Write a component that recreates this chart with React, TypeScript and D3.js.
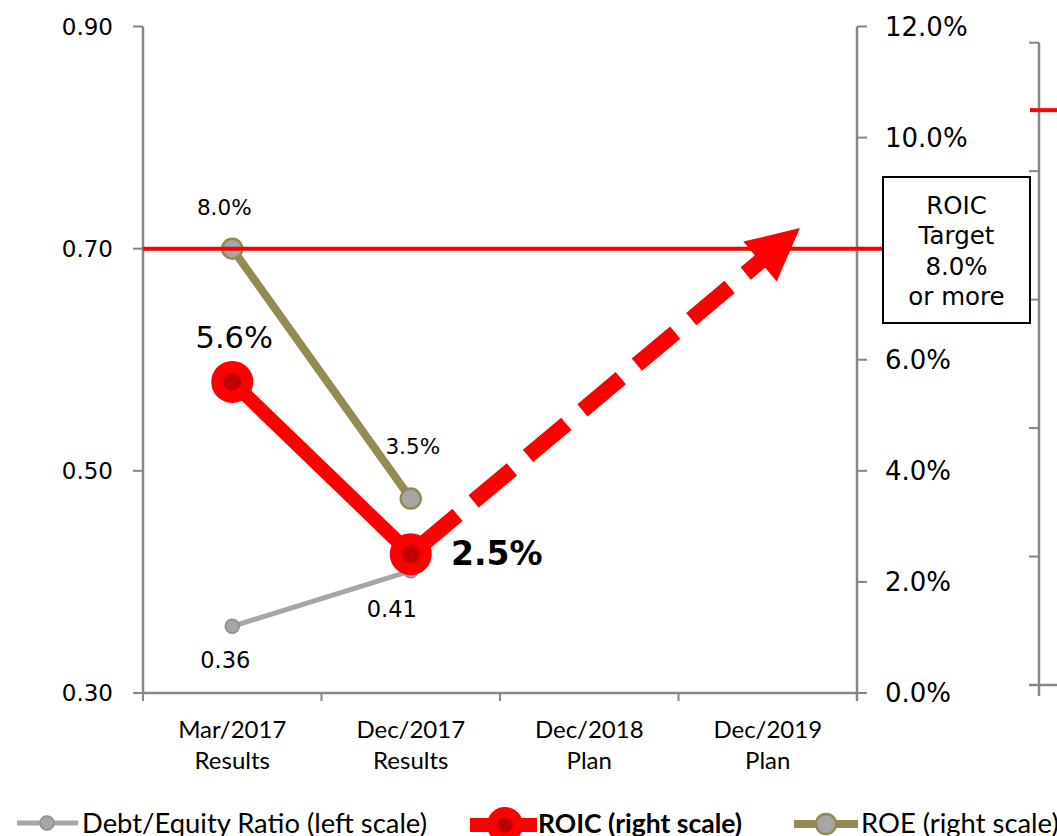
import React from "react";
import * as d3 from "d3";

const catLine1 = ["Mar/2017", "Dec/2017", "Dec/2018", "Dec/2019"];
const catLine2 = ["Results", "Results", "Plan", "Plan"];
const debtEquity = [0.36, 0.41];
const roic = [5.6, 2.5];
const roe = [8.0, 3.5];
const roicTarget = 8.0;
const leftTicks = [0.3, 0.5, 0.7, 0.9];
const rightTicks = [0, 2, 4, 6, 8, 10, 12];
const thirdTicks = [0, 2, 4, 6, 8, 10];
const thirdMark = 8.95;
const arrowTo = { cat: 3.18, value: 8.37 };
const targetLabel = ["ROIC", "Target", "8.0%", "or more"];
const legendItems = [
  "Debt/Equity Ratio (left scale)",
  "ROIC (right scale)",
  "ROE (right scale)",
];

const W = 1057;
const H = 836;
const RED = "#FF0000";
const DARKRED = "#C00000";
const OLIVE = "#948A54";
const GRAY = "#A6A6A6";
const AXIS = "#868686";
const NUM = "'DejaVu Sans', sans-serif";
const LAT = "Lato, 'Noto Sans', sans-serif";

export default function App() {
  const x = d3.scaleLinear().domain([-0.5, 3.5]).range([143, 857]);
  const yL = d3.scaleLinear().domain([0.3, 0.9]).range([693, 26.5]);
  const yR = d3.scaleLinear().domain([0, 12]).range([693, 26.5]);
  const y3 = d3.scaleLinear().domain([0, 10]).range([685, 42.7]);

  const lineL = d3
    .line<number>()
    .x((_, i) => x(i))
    .y((d) => yL(d));
  const lineR = d3
    .line<number>()
    .x((_, i) => x(i))
    .y((d) => yR(d));

  // arrow
  const ax0 = x(1);
  const ay0 = yR(roic[1]);
  const ax1 = x(arrowTo.cat);
  const ay1 = yR(arrowTo.value);
  const len = Math.hypot(ax1 - ax0, ay1 - ay0);
  const ux = (ax1 - ax0) / len;
  const uy = (ay1 - ay0) / len;
  const headLen = 52;
  const headHalf = 26;
  const bx = ax1 - ux * headLen;
  const by = ay1 - uy * headLen;
  const px = -uy;
  const py = ux;
  const headPts = [
    [ax1, ay1],
    [bx + px * headHalf, by + py * headHalf],
    [bx - px * headHalf, by - py * headHalf],
  ]
    .map((p) => p.join(","))
    .join(" ");

  const boundaries = d3.range(5).map((i) => x(i - 0.5));
  const boxX = 883;
  const boxY = 177;
  const boxW = 147;
  const boxH = 146;

  const legY = 824;
  const legBase = 833;

  return (
    <svg
      width={W}
      height={H}
      style={{ position: "absolute", left: 0, top: 0, background: "#fff" }}
    >
      <rect width={W} height={H} fill="#fff" />
      {/* left axis */}
      <line x1={143} x2={143} y1={yL(0.9)} y2={693} stroke={AXIS} strokeWidth={2.5} />
      {leftTicks.map((t) => (
        <g key={t}>
          <line x1={133} x2={143} y1={yL(t)} y2={yL(t)} stroke={AXIS} strokeWidth={2} />
          <text
            x={113}
            y={yL(t)}
            textAnchor="end"
            dominantBaseline="central"
            fontFamily={NUM}
            fontSize={23}
            fill="#000"
          >
            {t.toFixed(2)}
          </text>
        </g>
      ))}
      {/* right axis */}
      <line x1={857} x2={857} y1={yR(12)} y2={700} stroke={AXIS} strokeWidth={2.5} />
      {rightTicks.map((t) => (
        <g key={t}>
          <line x1={857} x2={867} y1={yR(t)} y2={yR(t)} stroke={AXIS} strokeWidth={2} />
          <text
            x={885}
            y={yR(t)}
            dominantBaseline="central"
            fontFamily={NUM}
            fontSize={26}
            fill="#000"
          >
            {t.toFixed(1) + "%"}
          </text>
        </g>
      ))}
      {/* bottom axis */}
      <line x1={143} x2={857} y1={693} y2={693} stroke={AXIS} strokeWidth={2.5} />
      {boundaries.map((b, i) => (
        <line key={i} x1={b} x2={b} y1={693} y2={701} stroke={AXIS} strokeWidth={2} />
      ))}
      {catLine1.map((c, i) => (
        <g key={c}>
          <text
            x={x(i)}
            y={728}
            textAnchor="middle"
            dominantBaseline="central"
            fontFamily={LAT}
            fontSize={24}
          >
            {c}
          </text>
          <text
            x={x(i)}
            y={759}
            textAnchor="middle"
            dominantBaseline="central"
            fontFamily={LAT}
            fontSize={24}
          >
            {catLine2[i]}
          </text>
        </g>
      ))}
      {/* third axis */}
      <line x1={1039} x2={1039} y1={y3(10)} y2={696} stroke={AXIS} strokeWidth={2.5} />
      {thirdTicks.map((t) => (
        <line key={t} x1={1029} x2={1039} y1={y3(t)} y2={y3(t)} stroke={AXIS} strokeWidth={2} />
      ))}
      <line x1={1029} x2={W} y1={y3(0)} y2={y3(0)} stroke={AXIS} strokeWidth={2.5} />
      <line x1={1030} x2={W} y1={y3(thirdMark)} y2={y3(thirdMark)} stroke={RED} strokeWidth={4} />

      {/* Debt/Equity */}
      <path d={lineL(debtEquity) || ""} fill="none" stroke={GRAY} strokeWidth={5} />
      {debtEquity.map((d, i) => (
        <circle key={i} cx={x(i)} cy={yL(d)} r={7} fill={GRAY} stroke="#8C8C8C" strokeWidth={1.5} />
      ))}
      {/* ROE */}
      <path d={lineR(roe) || ""} fill="none" stroke={OLIVE} strokeWidth={8} />
      {roe.map((d, i) => (
        <circle key={i} cx={x(i)} cy={yR(d)} r={10} fill={GRAY} stroke={OLIVE} strokeWidth={2.5} />
      ))}
      {/* ROIC */}
      <path d={lineR(roic) || ""} fill="none" stroke={RED} strokeWidth={14} strokeLinejoin="round" />
      {/* arrow */}
      <line
        x1={ax0}
        y1={ay0}
        x2={bx + ux * 2}
        y2={by + uy * 2}
        stroke={RED}
        strokeWidth={16}
        strokeDasharray="50 21"
        strokeDashoffset={60}
      />
      <polygon points={headPts} fill={RED} />
      {roic.map((d, i) => (
        <circle key={i} cx={x(i)} cy={yR(d)} r={15} fill={DARKRED} stroke={RED} strokeWidth={12} />
      ))}
      {/* target line */}
      <line x1={143} x2={boxX} y1={yR(roicTarget)} y2={yR(roicTarget)} stroke={RED} strokeWidth={4} />
      <rect x={boxX} y={boxY} width={boxW} height={boxH} fill="#fff" stroke="#000" strokeWidth={2} />
      {targetLabel.map((t, i) => (
        <text
          key={t}
          x={boxX + boxW / 2}
          y={205 + i * 30.5}
          textAnchor="middle"
          dominantBaseline="central"
          fontFamily={NUM}
          fontSize={24.5}
        >
          {t}
        </text>
      ))}

      {/* data labels */}
      {roe.map((d, i) => (
        <text
          key={"roe" + i}
          x={x(i) - 8 + i * 10}
          y={yR(d) - (i === 0 ? 41 : 52)}
          textAnchor="middle"
          dominantBaseline="central"
          fontFamily={NUM}
          fontSize={21.5}
        >
          {d.toFixed(1) + "%"}
        </text>
      ))}
      {debtEquity.map((d, i) => (
        <text
          key={"de" + i}
          x={x(i) - 7 - i * 12}
          y={yL(d) + (i === 0 ? 34 : 38)}
          textAnchor="middle"
          dominantBaseline="central"
          fontFamily={NUM}
          fontSize={22.5}
        >
          {d.toFixed(2)}
        </text>
      ))}
      <text
        x={x(0) + 2}
        y={yR(roic[0]) - 44}
        textAnchor="middle"
        dominantBaseline="central"
        fontFamily={NUM}
        fontSize={30.5}
      >
        {roic[0].toFixed(1) + "%"}
      </text>
      <text
        x={x(1) + 86}
        y={yR(roic[1]) - 1}
        textAnchor="middle"
        dominantBaseline="central"
        fontFamily={NUM}
        fontWeight="bold"
        fontSize={33}
      >
        {roic[1].toFixed(1) + "%"}
      </text>

      {/* legend */}
      <line x1={17} x2={78} y1={legY - 1} y2={legY - 1} stroke={GRAY} strokeWidth={5} />
      <circle cx={47} cy={legY - 1} r={7} fill={GRAY} stroke="#8C8C8C" strokeWidth={1.5} />
      <text x={82} y={legBase} fontFamily={LAT} fontSize={27.4}>
        {legendItems[0]}
      </text>
      <line x1={470} x2={537} y1={legY + 1} y2={legY + 1} stroke={RED} strokeWidth={14} />
      <circle cx={505} cy={legY + 1} r={13} fill={DARKRED} stroke={RED} strokeWidth={10} />
      <text x={538} y={legBase} fontFamily={LAT} fontWeight="bold" fontSize={26.5}>
        {legendItems[1]}
      </text>
      <line x1={794} x2={858} y1={legY} y2={legY} stroke={OLIVE} strokeWidth={8} />
      <circle cx={826} cy={legY} r={10} fill={GRAY} stroke={OLIVE} strokeWidth={2.5} />
      <text x={861} y={legBase} fontFamily={LAT} fontSize={27.4}>
        {legendItems[2]}
      </text>
    </svg>
  );
}
